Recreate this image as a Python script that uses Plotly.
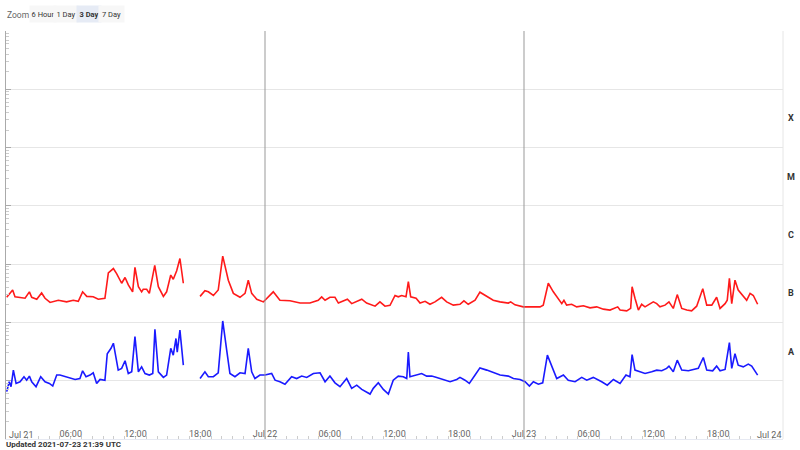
import pandas as pd
import plotly.graph_objects as go

# ---- data (minutes after 2021-07-21 00:00 UTC, flux W/m^2) ----
START = "2021-07-21 00:00"
long_min = [4, 37, 50, 78, 106, 130, 143, 171, 198, 217, 245, 291, 337, 374, 402, 426, 449, 485, 513, 550,
            569, 597, 615, 643, 662, 680, 704, 717, 736, 754, 763, 782, 797, 827, 847, 875, 893, 916, 930, 949,
            967, 986, 1030,
            1079, 1106, 1125, 1153, 1180, 1205, 1236, 1264, 1301, 1329, 1347, 1366, 1394, 1431, 1440, 1486, 1523,
            1579, 1635, 1690, 1736, 1755, 1774, 1801, 1829, 1848, 1898, 1922, 1978, 2005, 2052, 2079, 2107, 2135,
            2163, 2181, 2200, 2224, 2237, 2250, 2280, 2302, 2330, 2357, 2385, 2422, 2450, 2487, 2524, 2546, 2570,
            2608, 2635, 2673, 2709, 2747, 2793, 2806, 2830, 2876, 2895, 2932, 2969, 2987, 3015, 3043, 3071, 3090,
            3102, 3117, 3145, 3173, 3210, 3247, 3284, 3321, 3358, 3377, 3401, 3414, 3451, 3473, 3481, 3497, 3516,
            3534, 3553, 3571, 3599, 3618, 3636, 3664, 3686, 3710, 3732, 3757, 3785, 3812, 3840, 3874, 3896, 3924,
            3951, 3970, 3998, 4010, 4022, 4035, 4053, 4071, 4099, 4118, 4137, 4155, 4179]
long_flux = [2.7e-7, 3.6e-7, 2.75e-7, 2.7e-7, 2.6e-7, 3.35e-7, 2.7e-7, 2.5e-7, 3.2e-7, 2.6e-7, 2.2e-7, 2.4e-7,
             2.25e-7, 2.4e-7, 2.3e-7, 3.35e-7, 2.8e-7, 2.75e-7, 2.5e-7, 2.6e-7,
             7.1e-7, 8.4e-7, 6.9e-7, 4.7e-7, 5.9e-7, 4.4e-7, 3.35e-7, 8.8e-7, 4.1e-7, 3.35e-7, 3.7e-7, 3.7e-7,
             3.15e-7, 9.5e-7, 4.1e-7, 2.8e-7, 3.35e-7, 6.5e-7, 5.5e-7, 7.7e-7,
             1.25e-6, 4.7e-7, None,
             2.8e-7, 3.5e-7, 3.35e-7, 2.9e-7, 3.6e-7, 1.37e-6, 5.3e-7, 3.15e-7, 2.7e-7, 3.15e-7, 5.3e-7, 3.15e-7,
             2.5e-7, 2.25e-7, 2.4e-7, 3.35e-7, 2.4e-7,
             2.35e-7, 2.15e-7, 2.15e-7, 2.4e-7, 2.75e-7, 2.4e-7, 2.7e-7, 2.7e-7, 2.15e-7, 2.5e-7, 2.1e-7, 2.5e-7,
             2.15e-7, 1.9e-7, 2.25e-7, 1.9e-7, 1.96e-7,
             2.9e-7, 2.75e-7, 2.9e-7, 2.75e-7, 5.0e-7, 2.75e-7, 2.6e-7, 2.15e-7, 2.3e-7, 2.05e-7, 2.25e-7, 2.7e-7,
             2.25e-7, 1.98e-7, 2.05e-7, 2.35e-7, 2.05e-7,
             2.4e-7, 3.3e-7, 2.8e-7, 2.4e-7, 2.25e-7, 2.15e-7, 2.25e-7, 2.0e-7, 1.85e-7, 1.85e-7, 1.9e-7, 1.85e-7,
             1.98e-7, 4.7e-7, 3.35e-7, 2.6e-7, 2.1e-7,
             2.4e-7, 1.98e-7, 2.05e-7, 1.85e-7, 1.93e-7, 1.78e-7, 1.85e-7, 1.69e-7, 1.63e-7, 1.74e-7, 1.85e-7,
             1.63e-7, 1.58e-7, 1.74e-7, 4.1e-7, 2.6e-7, 1.63e-7,
             2.05e-7, 1.85e-7, 2.0e-7, 2.25e-7, 2.1e-7, 1.85e-7, 1.98e-7, 2.25e-7, 1.74e-7, 3.0e-7, 1.74e-7,
             1.63e-7, 1.58e-7, 1.9e-7, 3.8e-7, 1.98e-7, 1.98e-7,
             2.7e-7, 1.74e-7, 2.1e-7, 2.4e-7, 5.7e-7, 2.1e-7, 5.3e-7, 3.6e-7, 2.9e-7, 2.4e-7, 3.15e-7, 2.9e-7, 2.05e-7]

short_min = [4, 18, 28, 41, 56, 78, 100, 115, 130, 143, 167, 193, 217, 241, 260, 282, 300, 328, 356, 384, 411,
             426, 445, 467, 485, 504, 523, 550, 563, 584, 597, 606, 624, 643, 662, 680, 699, 717, 736, 754, 773,
             797, 816, 828, 847, 875, 893, 916, 930, 945, 952, 967, 986, 1030,
             1079, 1106, 1125, 1153, 1180, 1205, 1227, 1245, 1273, 1301, 1329, 1347, 1366, 1384, 1412, 1440, 1477,
             1496, 1523, 1551, 1588, 1616, 1644, 1672, 1709, 1746, 1774, 1801, 1829, 1857, 1894, 1922, 1950, 1978,
             2024, 2042, 2070, 2098, 2126, 2153, 2181, 2209, 2228, 2237, 2246, 2274, 2311, 2339, 2367, 2395, 2431,
             2469, 2506, 2524, 2552, 2576, 2608, 2635, 2673, 2709, 2747, 2793, 2821, 2858, 2886, 2910, 2932, 2960,
             2984, 3010, 3034, 3062, 3099, 3126, 3164, 3201, 3229, 3265, 3312, 3343, 3377, 3414, 3447, 3469, 3481,
             3497, 3525, 3553, 3590, 3618, 3646, 3673, 3686, 3710, 3732, 3757, 3794, 3821, 3849, 3877, 3896, 3929,
             3951, 3970, 3998, 4022, 4035, 4053, 4071, 4099, 4127, 4146, 4179]
short_flux = [6.5e-9, 9.6e-9, 7.9e-9, 1.52e-8, 9.0e-9, 9.6e-9, 1.17e-8, 1.02e-8, 1.2e-8, 9.6e-9, 7.9e-9, 1.17e-8,
              9.6e-9, 9.0e-9, 8.1e-9, 1.25e-8, 1.25e-8, 1.17e-8, 1.09e-8, 1.05e-8, 1.09e-8,
              1.48e-8, 1.17e-8, 1.25e-8, 1.37e-8, 9.0e-9, 1.05e-8, 1.02e-8, 2.9e-8, 3.6e-8, 4.4e-8, 3.1e-8,
              1.52e-8, 1.63e-8, 2.2e-8, 1.33e-8, 1.42e-8, 5.7e-8, 1.42e-8, 1.73e-8, 1.33e-8,
              1.25e-8, 1.33e-8, 7.6e-8, 1.42e-8, 1.14e-8, 1.25e-8, 3.6e-8, 2.75e-8, 5.3e-8, 3.1e-8, 7.4e-8,
              1.85e-8, None,
              1.09e-8, 1.42e-8, 1.17e-8, 1.17e-8, 1.37e-8, 1.06e-7, 3.35e-8, 1.33e-8, 1.17e-8, 1.37e-8, 1.33e-8,
              3.6e-8, 1.42e-8, 1.09e-8, 1.25e-8, 1.25e-8, 1.33e-8,
              1.02e-8, 9.6e-9, 8.7e-9, 1.17e-8, 1.09e-8, 1.2e-8, 1.14e-8, 1.33e-8, 1.37e-8, 9.6e-9, 1.2e-8,
              9.2e-9, 7.9e-9, 1.09e-8, 7.4e-9, 8.4e-9, 7.1e-9,
              5.9e-9, 7.4e-9, 9.2e-9, 7.1e-9, 5.9e-9, 1.02e-8, 1.2e-8, 1.17e-8, 1.09e-8, 3.1e-8, 1.17e-8,
              1.25e-8, 1.33e-8, 1.2e-8, 1.2e-8, 1.14e-8, 1.05e-8,
              9.6e-9, 1.05e-8, 1.14e-8, 1.02e-8, 9.0e-9, 1.25e-8, 1.66e-8, 1.52e-8, 1.37e-8, 1.25e-8, 1.2e-8,
              1.09e-8, 1.05e-8, 9.6e-9, 8.1e-9, 9.6e-9, 8.7e-9,
              9.2e-9, 2.75e-8, 1.73e-8, 1.09e-8, 1.25e-8, 1.02e-8, 9.6e-9, 1.14e-8, 1.02e-8, 1.14e-8, 9.6e-9,
              8.4e-9, 1.05e-8, 9.0e-9, 1.25e-8, 1.17e-8, 2.8e-8,
              1.52e-8, 1.42e-8, 1.33e-8, 1.42e-8, 1.52e-8, 1.48e-8, 1.63e-8, 1.78e-8, 1.42e-8, 2.25e-8, 1.52e-8,
              1.48e-8, 1.56e-8, 1.63e-8, 2.5e-8, 1.52e-8, 1.48e-8,
              1.78e-8, 1.48e-8, 1.56e-8, 4.5e-8, 1.63e-8, 2.9e-8, 1.85e-8, 1.73e-8, 1.93e-8, 1.78e-8, 1.25e-8]

x_tick_vals = ["2021-07-21 06:00", "2021-07-21 12:00", "2021-07-21 18:00", "2021-07-22 00:00",
               "2021-07-22 06:00", "2021-07-22 12:00", "2021-07-22 18:00", "2021-07-23 00:00",
               "2021-07-23 06:00", "2021-07-23 12:00", "2021-07-23 18:00"]
x_tick_text = ["06:00", "12:00", "18:00", "Jul 22", "06:00", "12:00", "18:00", "Jul 23",
               "06:00", "12:00", "18:00"]
edge_labels = ["Jul 21", "Jul 24"]
day_lines = ["2021-07-22 00:00", "2021-07-23 00:00"]
x_range = ["2021-07-21 00:00", "2021-07-24 00:00"]
class_labels = ["A", "B", "C", "M", "X"]
class_centers = [-7.5, -6.5, -5.5, -4.5, -3.5]
zoom_buttons = ["6 Hour", "1 Day", "3 Day", "7 Day"]
active_button = "3 Day"
updated_text = "Updated 2021-07-23 21:39 UTC"

t0 = pd.Timestamp(START)
long_t = [t0 + pd.Timedelta(minutes=m) for m in long_min]
short_t = [t0 + pd.Timedelta(minutes=m) for m in short_min]

FONT = "Roboto, Liberation Sans, Arial, sans-serif"

fig = go.Figure()
fig.add_trace(go.Scatter(x=long_t, y=long_flux, mode="lines", name="GOES-16 Long",
                         line=dict(color="#ff1a1a", width=1.6), connectgaps=False))
fig.add_trace(go.Scatter(x=short_t, y=short_flux, mode="lines", name="GOES-16 Short",
                         line=dict(color="#1a1aff", width=1.6), connectgaps=False))

for d in day_lines:
    fig.add_vline(x=pd.Timestamp(d).value / 1e6, line=dict(color="#999999", width=1))

# right edge line
fig.add_shape(type="line", xref="paper", yref="paper", x0=1, x1=1, y0=0, y1=1,
              line=dict(color="#e6e6e6", width=1))

annotations = []
for lab, c in zip(class_labels, class_centers):
    annotations.append(dict(text=f"<b>{lab}</b>", x=1, xref="paper", xanchor="center", xshift=8,
                            y=c, yref="y", showarrow=False,
                            font=dict(size=9, color="#333333", family=FONT)))

annotations.append(dict(text=edge_labels[0], x=0, xref="paper", xanchor="left", xshift=1,
                        y=0, yref="paper", yanchor="bottom", yshift=-3, showarrow=False,
                        font=dict(size=9, color="#666666", family=FONT)))
annotations.append(dict(text=edge_labels[1], x=1, xref="paper", xanchor="right", xshift=0,
                        y=0, yref="paper", yanchor="bottom", yshift=-3, showarrow=False,
                        font=dict(size=9, color="#666666", family=FONT)))

annotations.append(dict(text=f"<b>{updated_text}</b>", x=0, xref="paper", xanchor="left", xshift=-2,
                        y=0, yref="paper", yanchor="top", yshift=1, showarrow=False,
                        font=dict(size=8, color="#333333", family=FONT)))

# zoom label + buttons (pixel positions converted to paper fraction)
PLOT_L, PLOT_W = 6, 777
def px_to_paper(px):
    return (px - PLOT_L) / PLOT_W

annotations.append(dict(text="Zoom", x=px_to_paper(5), xref="paper", xanchor="left",
                        y=1, yref="paper", yanchor="bottom", yshift=9, showarrow=False,
                        font=dict(size=8.5, color="#666666", family=FONT)))
btn_left = [31, 55, 78, 100]
btn_width = [24, 22, 22, 23]
for lab, bl, bw in zip(zoom_buttons, btn_left, btn_width):
    active = lab == active_button
    annotations.append(dict(text=f"<b>{lab}</b>" if active else lab,
                            x=px_to_paper(bl + bw / 2), xref="paper", xanchor="center",
                            y=1, yref="paper", yanchor="bottom", yshift=8, showarrow=False,
                            width=bw, height=14, align="center", valign="middle",
                            bgcolor="#e6ebf5" if active else "#f7f7f7",
                            font=dict(size=7.5, color="#333333", family=FONT)))

fig.update_layout(
    width=800, height=450,
    margin=dict(l=6, r=17, t=31, b=11),
    paper_bgcolor="white", plot_bgcolor="white",
    showlegend=False,
    font=dict(family=FONT),
    annotations=annotations,
    xaxis=dict(type="date", range=x_range, tickmode="array", tickvals=x_tick_vals, ticktext=x_tick_text,
               ticklabelposition="inside", ticklabeloverflow="allow", ticklabelstandoff=-4,
               ticks="inside", ticklen=3, tickcolor="#cccccc",
               tickfont=dict(size=9, color="#666666", family=FONT),
               showgrid=False, zeroline=False,
               showline=True, linecolor="#e6e9f2", linewidth=1,
               minor=dict(dtick=3600000, tick0="2021-07-21 00:00", ticks="inside", ticklen=3,
                          tickcolor="#cccccc", showgrid=False)),
    yaxis=dict(type="log", range=[-9, -2], dtick=1, showticklabels=False,
               ticks="inside", ticklen=5, tickcolor="#aaaaaa",
               showgrid=True, gridcolor="#e6e6e6", gridwidth=1, zeroline=False,
               showline=True, linecolor="#aaaaaa", linewidth=1,
               minor=dict(dtick="D1", ticks="inside", ticklen=3, tickcolor="#cccccc", showgrid=False)),
)

fig.write_html("out.html", config={"displayModeBar": False},
               post_script="document.body.style.margin='0';document.body.style.overflow='hidden';")
